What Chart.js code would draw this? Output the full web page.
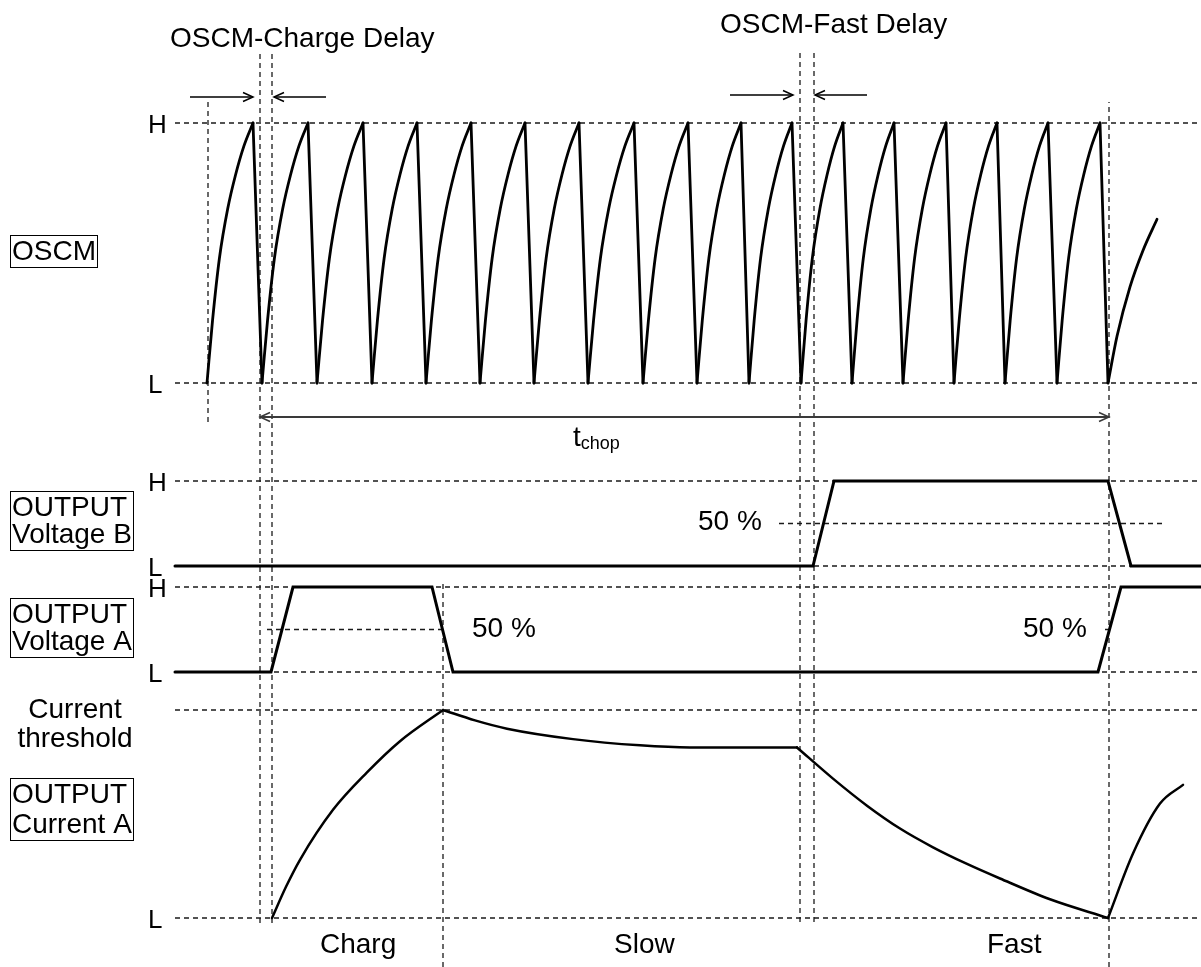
<!DOCTYPE html>
<html>
<head>
<meta charset="utf-8">
<title>OSCM chopping timing</title>
<script src="https://cdn.jsdelivr.net/npm/chart.js@4.4.1/dist/chart.umd.min.js"></script>
<style>
body{margin:0;background:#fff;}
#timing{display:block;}
</style>
</head>
<body>
<canvas id="timing" width="1201" height="967"></canvas>
<script>
// time axis is in 0.1 us steps, vertical axis in rows (see rows below)

// OSCM sawtooth: instants of L (valley) and H (peak)
var oscmValleys = [20.7, 26.2, 31.7, 37.2, 42.6, 48.0, 53.4, 58.8, 64.3, 69.7, 74.9, 80.1, 85.2, 90.3, 95.4, 100.5, 105.7, 110.8];
var oscmPeaks = [25.3, 30.8, 36.3, 41.7, 47.1, 52.5, 57.9, 63.4, 68.8, 74.1, 79.2, 84.3, 89.4, 94.6, 99.7, 104.8, 110.0];
// one charging ramp: fraction of ramp time -> level
var rampFrac = [0, 0.12, 0.27, 0.45, 0.62, 0.8, 1];
var rampLevel = [0, 0.24, 0.48, 0.67, 0.8, 0.91, 1];
// ramp after the chop period, cut off
var oscmTailTime = [110.8, 111.7, 113.0, 114.3, 115.7];
var oscmTailLevel = [0, 0.18, 0.37, 0.51, 0.63];

var voltBTime = [17.5, 81.3, 83.4, 110.8, 113.1, 120.1];
var voltBLevel = [0, 0, 1, 1, 0, 0];
var voltATime = [17.5, 27.1, 29.3, 43.2, 45.3, 109.8, 112.1, 120.1];
var voltALevel = [0, 0, 1, 1, 0, 0, 1, 1];

// OUTPUT current A by phase (level 1 = current threshold)
var chargTime = [27.2, 28.6, 30.0, 33.3, 36.7, 40.0, 44.3];
var chargLevel = [0, 0.15, 0.28, 0.52, 0.7, 0.85, 1];
var slowTime = [44.3, 47.5, 50.7, 57.3, 64.0, 69.0, 79.7];
var slowLevel = [1, 0.95, 0.91, 0.86, 0.83, 0.82, 0.82];
var fastTime = [79.7, 83.3, 86.7, 90.0, 93.3, 96.7, 100.0, 105.0, 110.8];
var fastLevel = [0.82, 0.67, 0.54, 0.43, 0.34, 0.26, 0.19, 0.09, 0];
var rechargTime = [110.8, 113.3, 116.0, 118.3];
var rechargLevel = [0, 0.31, 0.55, 0.64];

var phaseNames = ['Charg', 'Slow', 'Fast'];

// where each signal sits on the vertical axis (L and H)
var rows = {
    oscm:  {lo: 58.4, hi: 84.4},
    voltB: {lo: 40.1, hi: 48.6},
    voltA: {lo: 29.5, hi: 38.0},
    curA:  {lo: 4.9,  hi: 25.7}
};
var tStart = 17.5, tEnd = 120.1;

function lvl(row, v){
    return row.lo + v * (row.hi - row.lo);
}

function toPoints(times, levels, row){
    var pts = [];
    for(var i = 0 ; i < times.length ; i++){
        pts.push({x: times[i], y: lvl(row, levels[i])});
    }
    return pts;
}

// ramps and drops of the sawtooth
var rampPts = [];
var dropPts = [];
for(var i = 0 ; i < oscmPeaks.length ; i++){
    var v0 = oscmValleys[i], p = oscmPeaks[i];
    for(var k = 0 ; k < rampFrac.length ; k++){
        rampPts.push({x: v0 + rampFrac[k] * (p - v0), y: lvl(rows.oscm, rampLevel[k])});
    }
    rampPts.push({x: p, y: null});
    dropPts.push({x: p, y: rows.oscm.hi});
    dropPts.push({x: oscmValleys[i + 1], y: rows.oscm.lo});
    dropPts.push({x: oscmValleys[i + 1], y: null});
}
var tailPts = toPoints(oscmTailTime, oscmTailLevel, rows.oscm);

// dashed guides
var guidePts = [];
function guide(x1, y1, x2, y2){
    guidePts.push({x: x1, y: y1}, {x: x2, y: y2}, {x: x2, y: null});
}
['oscm', 'voltB', 'voltA', 'curA'].forEach(function(name){
    guide(tStart, rows[name].lo, tEnd, rows[name].lo);
    guide(tStart, rows[name].hi, tEnd, rows[name].hi);
});
guide(77.9, lvl(rows.voltB, 0.5), 116.3, lvl(rows.voltB, 0.5));
guide(26.7, lvl(rows.voltA, 0.5), 44.7, lvl(rows.voltA, 0.5));
guide(110.5, lvl(rows.voltA, 0.5), 111.3, lvl(rows.voltA, 0.5));
guide(20.8, 54.5, 20.8, 86.5);
guide(26.0, 4.4, 26.0, 91.4);
guide(27.2, 4.4, 27.2, 91.4);
guide(44.3, 0, 44.3, 38.4);
guide(80.0, 4.5, 80.0, 91.5);
guide(81.4, 4.5, 81.4, 91.5);
guide(110.9, 0, 110.9, 86.5);

// delay arrows (head at "to") and t_chop
var arrows = [
    {from: 19.0, to: 25.3, y: 87.0, color: '#000'},
    {from: 32.6, to: 27.4, y: 87.0, color: '#000'},
    {from: 73.0, to: 79.3, y: 87.2, color: '#000'},
    {from: 86.7, to: 81.5, y: 87.2, color: '#000'},
    {from: 68.0, to: 26.0, y: 55.0, color: '#3a3a3a'},
    {from: 68.0, to: 110.9, y: 55.0, color: '#3a3a3a'}
];
var arrowPts = [];
var tchopPts = [];
arrows.forEach(function(a){
    var list = a.color == '#000' ? arrowPts : tchopPts;
    list.push({x: a.from, y: a.y}, {x: a.to, y: a.y}, {x: a.to, y: null});
});

var FONT = '"Liberation Sans", Arial, sans-serif';
var notes = [
    {text: 'OSCM-Charge Delay', x: 17.0, y: 92.0},
    {text: 'OSCM-Fast Delay', x: 72.0, y: 93.4},
    {text: '50 %', x: 69.8, y: 43.7},
    {text: '50 %', x: 47.2, y: 33.0},
    {text: '50 %', x: 102.3, y: 33.0},
    {text: phaseNames[0], x: 32.0, y: 1.4},
    {text: phaseNames[1], x: 61.4, y: 1.4},
    {text: phaseNames[2], x: 98.7, y: 1.4},
    {text: 'Current', x: 7.5, y: 24.9, align: 'center'},
    {text: 'threshold', x: 7.5, y: 22.0, align: 'center'}
];
var boxes = [
    {lines: ['OSCM'], x: 1.2, y: [70.7]},
    {lines: ['OUTPUT', 'Voltage B'], x: 1.2, y: [45.1, 42.4]},
    {lines: ['OUTPUT', 'Voltage A'], x: 1.2, y: [34.4, 31.7]},
    {lines: ['OUTPUT', 'Current A'], x: 1.2, y: [16.4, 13.4]}
];
var levelTags = [
    ['H', rows.oscm.hi], ['L', rows.oscm.lo],
    ['H', rows.voltB.hi], ['L', rows.voltB.lo],
    ['H', rows.voltA.hi], ['L', rows.voltA.lo],
    ['L', rows.curA.lo]
];

var textPlugin = {
    id: 'timingText',
    afterDatasetsDraw: function(chart){
        var ctx = chart.ctx;
        var xs = chart.scales.x, ys = chart.scales.y;
        ctx.save();
        ctx.fillStyle = '#000';
        ctx.textBaseline = 'alphabetic';

        // arrow heads
        arrows.forEach(function(a){
            var px = xs.getPixelForValue(a.to), py = ys.getPixelForValue(a.y);
            var d = a.to > a.from ? 1 : -1;
            ctx.strokeStyle = a.color;
            ctx.lineWidth = 1.5;
            ctx.beginPath();
            ctx.moveTo(px - d * 10, py - 4.5);
            ctx.lineTo(px, py);
            ctx.lineTo(px - d * 10, py + 4.5);
            ctx.stroke();
        });

        ctx.font = '28px ' + FONT;
        notes.forEach(function(n){
            ctx.textAlign = n.align || 'left';
            ctx.fillText(n.text, xs.getPixelForValue(n.x), ys.getPixelForValue(n.y));
        });
        ctx.textAlign = 'left';

        // t_chop
        var tx = xs.getPixelForValue(57.3), ty = ys.getPixelForValue(52.1);
        ctx.fillText('t', tx, ty);
        var tw = ctx.measureText('t').width;
        ctx.font = '18px ' + FONT;
        ctx.fillText('chop', tx + tw, ty + 3);

        // boxed signal names
        ctx.font = '28px ' + FONT;
        ctx.strokeStyle = '#000';
        ctx.lineWidth = 1;
        boxes.forEach(function(b){
            var bx = xs.getPixelForValue(b.x);
            var w = 0;
            b.lines.forEach(function(s, j){
                w = Math.max(w, ctx.measureText(s).width);
                ctx.fillText(s, bx, ys.getPixelForValue(b.y[j]));
            });
            var top = ys.getPixelForValue(b.y[0]) - 25;
            var bottom = ys.getPixelForValue(b.y[b.y.length - 1]) + 7;
            ctx.strokeRect(Math.round(bx - 2) + 0.5, Math.round(top) + 0.5, Math.round(w + 3), Math.round(bottom - top));
        });

        // H / L levels
        ctx.font = '26px ' + FONT;
        levelTags.forEach(function(tag){
            ctx.fillText(tag[0], xs.getPixelForValue(14.8), ys.getPixelForValue(tag[1]) + 9.5);
        });
        ctx.restore();
    }
};

function solid(points, smooth, width){
    return {
        data: points,
        borderColor: '#000',
        borderWidth: width || 3,
        borderCapStyle: 'round',
        cubicInterpolationMode: smooth ? 'monotone' : 'default',
        tension: 0,
        pointRadius: 0,
        spanGaps: false
    };
}

var ctx = document.getElementById('timing').getContext('2d');
var timingChart = new Chart(ctx, {
    type: 'line',
    data: {
        datasets: [
            solid(rampPts, true, 2.8),
            solid(dropPts, false, 2.8),
            solid(tailPts, true, 2.8),
            solid(toPoints(voltBTime, voltBLevel, rows.voltB), false),
            solid(toPoints(voltATime, voltALevel, rows.voltA), false),
            solid(toPoints(chargTime, chargLevel, rows.curA), true, 2.5),
            solid(toPoints(slowTime, slowLevel, rows.curA), true, 2.5),
            solid(toPoints(fastTime, fastLevel, rows.curA), true, 2.5),
            solid(toPoints(rechargTime, rechargLevel, rows.curA), true, 2.5),
            {
                data: arrowPts,
                borderColor: '#000',
                borderWidth: 1.5,
                pointRadius: 0
            },
            {
                data: tchopPts,
                borderColor: '#3a3a3a',
                borderWidth: 2,
                pointRadius: 0
            },
            {
                data: guidePts,
                borderColor: '#1a1a1a',
                borderWidth: 1.3,
                borderDash: [5, 4],
                pointRadius: 0
            }
        ]
    },
    options: {
        responsive: false,
        animation: false,
        devicePixelRatio: 1,
        layout: {padding: 0},
        scales: {
            x: {type: 'linear', display: false, min: 0, max: 120.1},
            y: {type: 'linear', display: false, min: 0, max: 96.7}
        },
        plugins: {
            legend: {display: false},
            tooltip: {enabled: false}
        }
    },
    plugins: [textPlugin]
});
</script>
</body>
</html>
